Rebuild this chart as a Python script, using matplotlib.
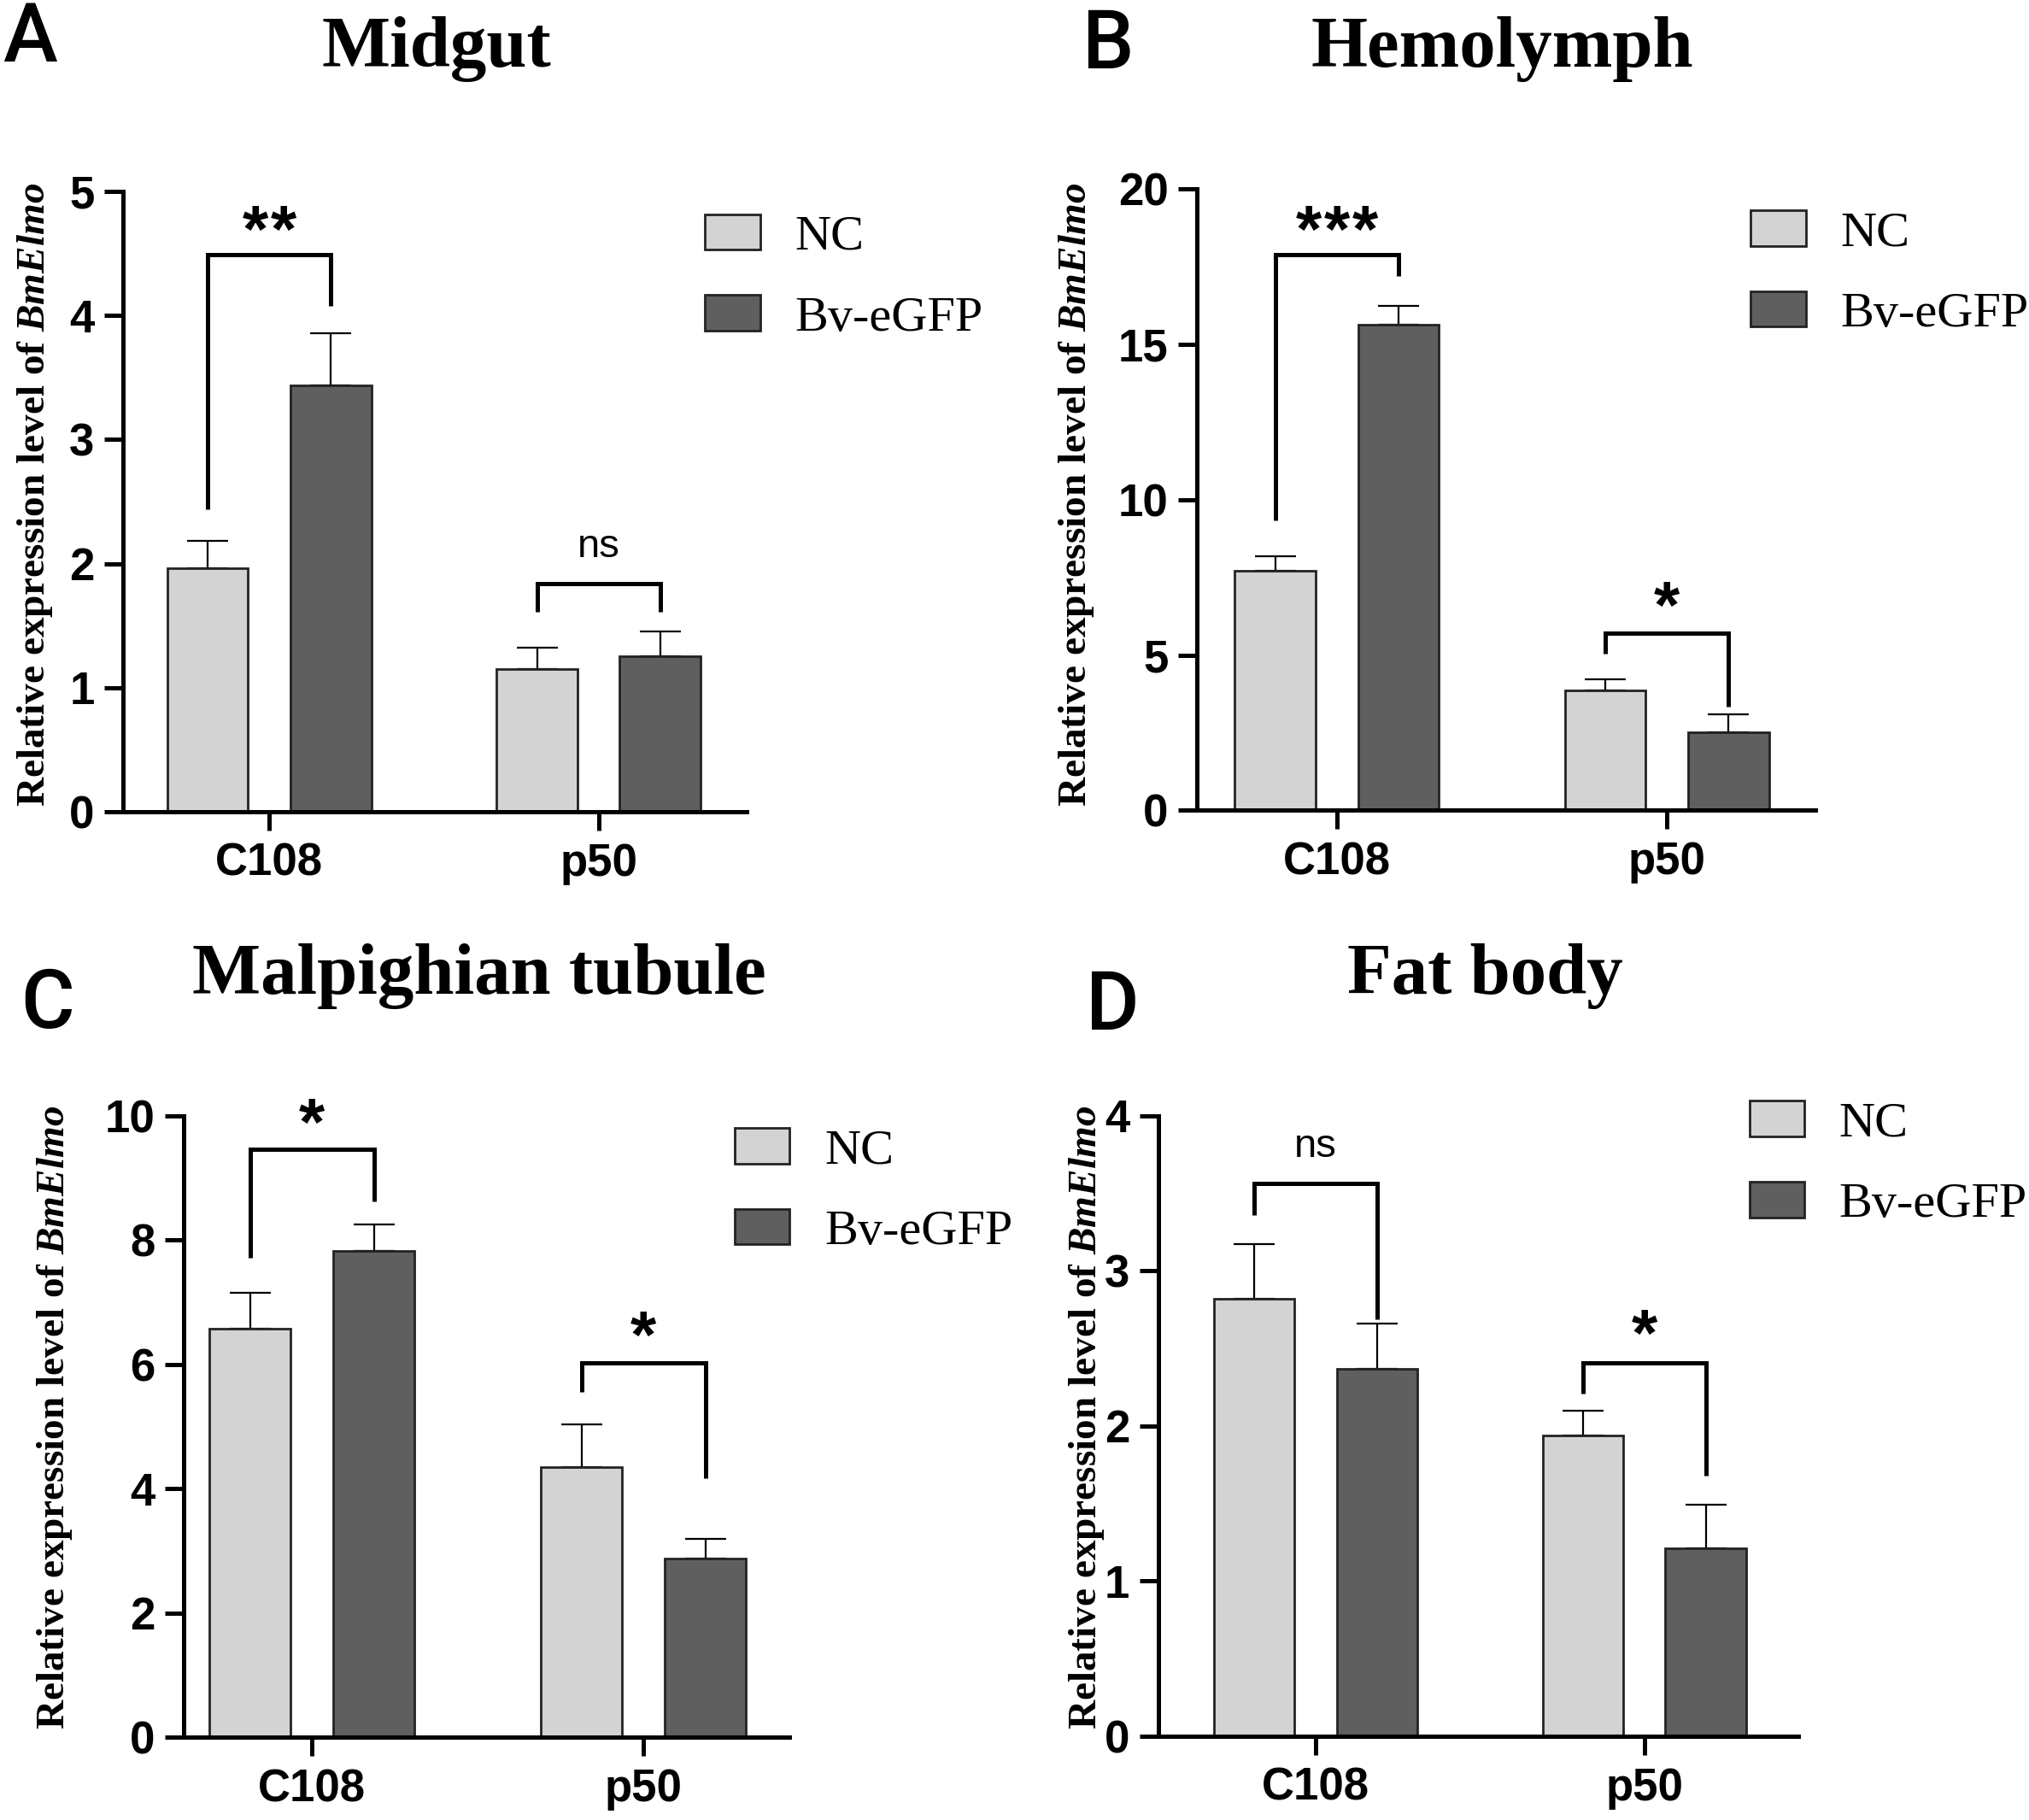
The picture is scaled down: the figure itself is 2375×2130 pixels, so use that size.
import matplotlib
matplotlib.use("Agg")
import matplotlib.pyplot as plt
from matplotlib.patches import Patch
from matplotlib import transforms
import numpy as np

plt.rcParams['mathtext.fontset'] = 'custom'
plt.rcParams['mathtext.it'] = 'Liberation Serif:bold:italic'
plt.rcParams['mathtext.rm'] = 'Liberation Serif:bold'
plt.rcParams['mathtext.bf'] = 'Liberation Serif:bold'

# ---------------- data ----------------
categories = ["C108", "p50"]
groups = ["NC", "Bv-eGFP"]
titles = ["Midgut", "Hemolymph", "Malpighian tubule", "Fat body"]
panel_letters = ["A", "B", "C", "D"]

midgut_nc = [1.96, 1.15]
midgut_nc_err = [0.22, 0.17]
midgut_bv = [3.44, 1.25]
midgut_bv_err = [0.42, 0.20]

hemo_nc = [7.71, 3.87]
hemo_nc_err = [0.46, 0.34]
hemo_bv = [15.63, 2.50]
hemo_bv_err = [0.62, 0.58]

malp_nc = [6.58, 4.35]
malp_nc_err = [0.57, 0.69]
malp_bv = [7.83, 2.88]
malp_bv_err = [0.42, 0.31]

fat_nc = [2.82, 1.94]
fat_nc_err = [0.35, 0.16]
fat_bv = [2.37, 1.21]
fat_bv_err = [0.29, 0.28]

midgut_sig = ["**", "ns"]
hemo_sig = ["***", "*"]
malp_sig = ["*", "*"]
fat_sig = ["ns", "*"]

y_max = [5, 20, 10, 4]
y_step = [1, 5, 2, 1]

# bracket: (horizontal y, left leg bottom, right leg bottom, label y)
midgut_br = [(4.49, 2.44, 4.08, 4.75), (1.84, 1.61, 1.61, 2.14)]
hemo_br = [(17.9, 9.33, 17.2, 18.9), (5.71, 5.04, 3.33, 6.8)]
malp_br = [(9.46, 7.71, 8.62, 10.0), (6.02, 5.56, 4.17, 6.58)]
fat_br = [(3.566, 3.36, 2.69, 3.80), (2.405, 2.21, 1.68, 2.64)]

# ---------------- layout ----------------
W, H = 1568.0, 1406.0  # reference coordinate grid
FW, FH = 2375.0, 2130.0
fig = plt.figure(figsize=(23.75, 21.3), dpi=100)

ax_rects = [
    (95 / W, 1 - 627 / H, 482 / W, 479 / H),
    (925 / W, 1 - 626 / H, 478 / W, 480 / H),
    (142 / W, 1 - 1342 / H, 468 / W, 480 / H),
    (895 / W, 1 - 1341 / H, 495 / W, 479 / H),
]
xlims = [(-0.445, 1.45), (-0.424, 1.45), (-0.387, 1.44), (-0.48, 1.47)]
legend_pos = [(545 / W, 1 - 165.5 / H), (1353 / W, 1 - 162.5 / H),
              (568 / W, 1 - 871.5 / H), (1352 / W, 1 - 850.5 / H)]
title_pos = [(337 / W, 1 - 38 / H), (1161 / W, 1 - 38 / H),
             (370 / W, 1 - 754 / H), (1148 / W, 1 - 754 / H)]
letter_pos = [(35.5 / FW, 1 - 72 / FH), (1297.5 / FW, 1 - 80 / FH),
              (55.5 / FW, 1 - 1203 / FH), (1302 / FW, 1 - 1205 / FH)]
ylabel_pos = [(27 / W, 1 - 382 / H), (832 / W, 1 - 382 / H),
              (42 / W, 1 - 1095 / H), (840 / W, 1 - 1095 / H)]

nc_color = "#d3d3d3"
bv_color = "#5f5f5f"
bar_w = 0.245
off = 0.187
spine_lw = 3.6

datasets = [
    (midgut_nc, midgut_nc_err, midgut_bv, midgut_bv_err, midgut_sig, midgut_br),
    (hemo_nc, hemo_nc_err, hemo_bv, hemo_bv_err, hemo_sig, hemo_br),
    (malp_nc, malp_nc_err, malp_bv, malp_bv_err, malp_sig, malp_br),
    (fat_nc, fat_nc_err, fat_bv, fat_bv_err, fat_sig, fat_br),
]

star_fs = 56
star_gap = 24  # points between star centres

x = np.arange(len(categories))
for i, (nc, nce, bv, bve, sig, br) in enumerate(datasets):
    ax = fig.add_axes(ax_rects[i])
    ax.bar(x - off, nc, bar_w, color=nc_color, edgecolor="#222222", linewidth=2.0, zorder=2)
    ax.bar(x + off, bv, bar_w, color=bv_color, edgecolor="#222222", linewidth=2.0, zorder=2)
    ax.errorbar(x - off, nc, yerr=[np.zeros(len(nc)), nce], fmt="none", ecolor="black",
                elinewidth=1.6, capsize=17, capthick=1.6, zorder=1)
    ax.errorbar(x + off, bv, yerr=[np.zeros(len(bv)), bve], fmt="none", ecolor="black",
                elinewidth=1.6, capsize=17, capthick=1.6, zorder=1)
    ax.set_xlim(*xlims[i])
    ax.set_ylim(0, y_max[i])
    ax.set_yticks(np.arange(0, y_max[i] + 0.001, y_step[i]))
    ax.set_xticks(x)
    ax.set_xticklabels(categories)
    for s in ["top", "right"]:
        ax.spines[s].set_visible(False)
    for s in ["left", "bottom"]:
        ax.spines[s].set_linewidth(spine_lw)
    ax.tick_params(axis="both", direction="out", length=16, width=spine_lw, pad=8)
    ax.tick_params(axis="x", pad=10)
    for lab in ax.get_xticklabels() + ax.get_yticklabels():
        lab.set_fontfamily("Liberation Sans")
        lab.set_fontweight("bold")
        lab.set_fontsize(38)

    # significance brackets
    for j in range(len(categories)):
        hy, lb, rb, ty = br[j]
        xl, xr = x[j] - off, x[j] + off
        ax.plot([xl, xl, xr, xr], [lb, hy, hy, rb], color="black", lw=3.6,
                solid_joinstyle="miter", solid_capstyle="butt", zorder=3)
        if sig[j] == "ns":
            fs = 34
            tr = transforms.offset_copy(ax.transData, fig=fig, x=0, y=-0.26 * fs, units="points")
            ax.text(x[j], ty, sig[j], ha="center", va="baseline", fontsize=fs,
                    family="Liberation Sans", transform=tr)
        else:
            n = len(sig[j])
            for k in range(n):
                dx = (k - (n - 1) / 2.0) * star_gap
                tr = transforms.offset_copy(ax.transData, fig=fig, x=dx,
                                            y=-0.44 * star_fs, units="points")
                ax.text(x[j], ty, "*", ha="center", va="baseline", fontsize=star_fs,
                        family="Liberation Sans", fontweight="bold", transform=tr)

    handles = [Patch(facecolor=nc_color, edgecolor="#222222", linewidth=2.0, label=groups[0]),
               Patch(facecolor=bv_color, edgecolor="#222222", linewidth=2.0, label=groups[1])]
    ax.legend(handles=handles, loc="upper left", bbox_to_anchor=legend_pos[i],
              bbox_transform=fig.transFigure, frameon=False, borderpad=0, borderaxespad=0,
              handlelength=1.1, handleheight=0.72, handletextpad=0.7, labelspacing=0.71,
              prop={"family": "Liberation Serif", "size": 42})

    fig.text(*title_pos[i], titles[i], ha="center", va="center", fontsize=61,
             family="Liberation Serif", fontweight="bold")
    fig.text(*letter_pos[i], panel_letters[i], ha="center", va="baseline", fontsize=69,
             family="Roboto", fontweight="medium")
    fig.text(*ylabel_pos[i], r"Relative expression level of $\mathit{BmElmo}$",
             ha="center", va="center", rotation=90, fontsize=34,
             family="Liberation Serif", fontweight="bold")

fig.savefig("out.png", dpi=100)
